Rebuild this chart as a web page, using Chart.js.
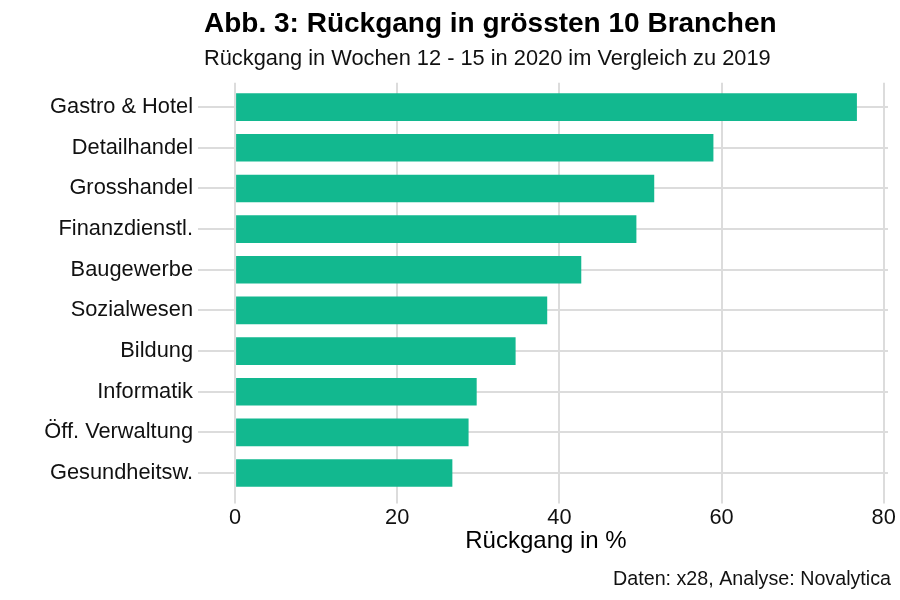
<!DOCTYPE html>
<html>
<head>
<meta charset="utf-8">
<script src="https://cdn.jsdelivr.net/npm/chart.js@4"></script>
<style>
  body { margin: 0; background: #fff; }
  #wrap { width: 900px; height: 600px; }
</style>
</head>
<body>
<div id="wrap"><canvas id="chartBranchen"></canvas></div>
<script>
// Daten
const categories = ["Gastro & Hotel", "Detailhandel", "Grosshandel", "Finanzdienstl.", "Baugewerbe",
  "Sozialwesen", "Bildung", "Informatik", "Öff. Verwaltung", "Gesundheitsw."];
const values = [76.7, 59.0, 51.7, 49.5, 42.7, 38.5, 34.6, 29.8, 28.8, 26.8];
const xTicks = [0, 20, 40, 60, 80];

const titleText = "Abb. 3: Rückgang in grössten 10 Branchen";
const subtitleText = "Rückgang in Wochen 12 - 15 in 2020 im Vergleich zu 2019";
const axisTitle = "Rückgang in %";
const captionText = "Daten: x28, Analyse: Novalytica";

const fontFamily = "'Liberation Sans', Arial, sans-serif";
const gridColor = "#dcdcdc";

// ggplot-like expansion of the value axis
const maxVal = Math.max(...values);

// caption bottom right
const captionPlugin = {
  id: "caption",
  afterDraw(chart) {
    const ctx = chart.ctx;
    ctx.save();
    ctx.font = "19.7px " + fontFamily;
    ctx.fillStyle = "#111";
    ctx.textAlign = "right";
    ctx.textBaseline = "alphabetic";
    ctx.fillText(captionText, chart.width - 9, 585);
    ctx.restore();
  }
};

const chart = new Chart("chartBranchen", {
  type: "bar",
  data: {
    datasets: [{
      data: categories.map((c, i) => ({ x: values[i], y: i })),
      backgroundColor: "#12b88f",
      borderWidth: 0,
      barPercentage: 0.68,
      categoryPercentage: 1
    }]
  },
  options: {
    indexAxis: "y",
    responsive: true,
    maintainAspectRatio: false,
    animation: false,
    layout: { padding: { left: 0, right: 12, top: 0, bottom: 0 } },
    plugins: {
      legend: { display: false },
      tooltip: { enabled: false },
      title: {
        display: true,
        text: titleText,
        align: "start",
        fullSize: false,
        color: "#000",
        font: { family: fontFamily, size: 28, weight: "bold", lineHeight: 1.2 },
        padding: { top: 7, bottom: 5 }
      },
      subtitle: {
        display: true,
        text: subtitleText,
        align: "start",
        fullSize: false,
        color: "#111",
        font: { family: fontFamily, size: 21.8, lineHeight: 1.2 },
        padding: { top: 0, bottom: 11 }
      }
    },
    scales: {
      x: {
        type: "linear",
        min: -0.05 * maxVal,
        max: 1.05 * maxVal,
        afterBuildTicks: (axis) => {
          axis.ticks = xTicks.map(v => ({ value: v }));
        },
        afterFit: (axis) => { axis.height = 102.6; },
        border: { display: false },
        grid: { color: gridColor, lineWidth: 2, tickLength: 6 },
        ticks: {
          color: "#111",
          padding: 2,
          font: { family: fontFamily, size: 21.8 }
        },
        title: {
          display: true,
          text: axisTitle,
          color: "#000",
          font: { family: fontFamily, size: 24, lineHeight: 1.2 },
          padding: { top: 0, bottom: 44 }
        }
      },
      y: {
        type: "linear",
        reverse: true,
        offset: false,
        min: -0.6,
        max: categories.length - 1 + 0.6,
        afterBuildTicks: (axis) => {
          axis.ticks = categories.map((c, i) => ({ value: i }));
        },
        afterFit: (axis) => { axis.width = 204; },
        border: { display: false },
        grid: { color: gridColor, lineWidth: 2, tickLength: 6, offset: false },
        ticks: {
          color: "#111",
          padding: 5,
          font: { family: fontFamily, size: 21.8 },
          callback: (v) => categories[v]
        }
      }
    }
  },
  plugins: [captionPlugin]
});
</script>
</body>
</html>
